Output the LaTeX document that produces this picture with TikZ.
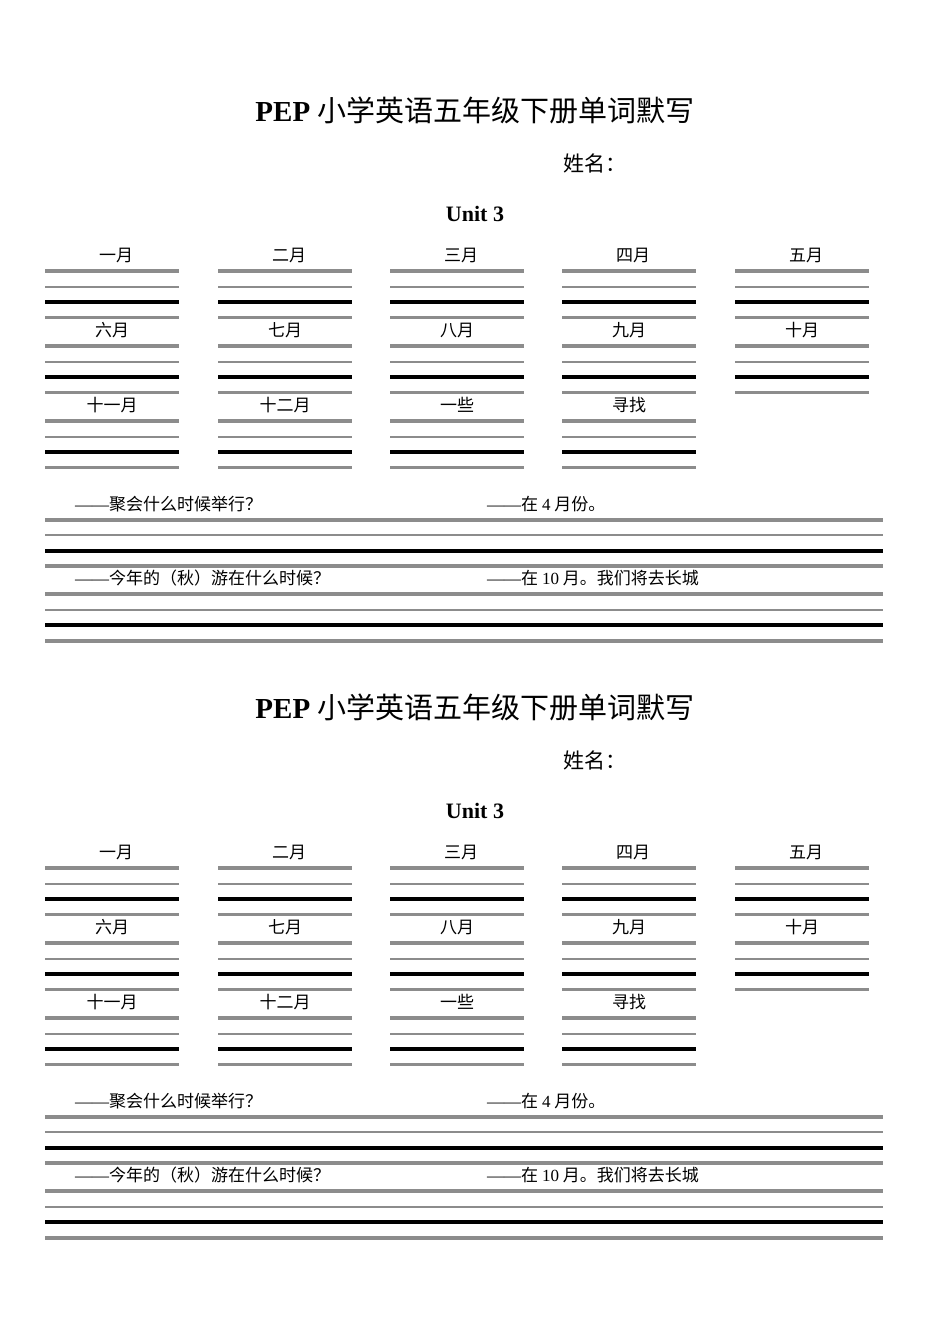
\documentclass[tikz,border=0pt]{standalone}
\usepackage{fontspec}
\setmainfont{Liberation Serif}
\newfontfamily\cjk{Noto Sans CJK SC}
\begin{document}
\begin{tikzpicture}[x=1pt,y=-1pt,
  gA/.style={draw=black!45,line width=3.2pt},
  gB/.style={draw=black!45,line width=2pt},
  bk/.style={draw=black,line width=3.2pt},
  lab/.style={font=\cjk\fontsize{17}{17}\selectfont,inner sep=0pt}]
\useasboundingbox (0,0) rectangle (950,1344);
\def\cellset#1#2#3{% x, y(top line)
  \draw[gA] (#1,#2) -- ++(134,0);
  \draw[gB] (#1,#2+15.5) -- ++(134,0);
  \draw[bk] (#1,#2+31) -- ++(134,0);
  \draw[gA] (#1,#2+46.5) -- ++(134,0);}
\foreach \o/\k in {0/a,597/b}{
  \node[font=\fontsize{29}{29}\selectfont,inner sep=0pt] (title\k) at (475,110+\o) {\textbf{PEP} \cjk 小学英语五年级下册单词默写};
  \node[font=\cjk\fontsize{21}{21}\selectfont,inner sep=0pt,anchor=west] (name\k) at (563,163+\o) {姓名：};
  \node[font=\bfseries\fontsize{22}{22}\selectfont,inner sep=0pt] (unit\k) at (475,214+\o) {Unit 3};
  \foreach \x/\t [count=\i] in {45/一月,218/二月,390/三月,562/四月,735/五月}{
    \node[lab] (r1\i\k) at (\x+71,255+\o) {\t};
    \cellset{\x}{271+\o}{}}
  \foreach \x/\t [count=\i] in {45/六月,218/七月,390/八月,562/九月,735/十月}{
    \node[lab] (r2\i\k) at (\x+67,330+\o) {\t};
    \cellset{\x}{346+\o}{}}
  \foreach \x/\t [count=\i] in {45/十一月,218/十二月,390/一些,562/寻找}{
    \node[lab] (r3\i\k) at (\x+67,405+\o) {\t};
    \cellset{\x}{421+\o}{}}
  \node[lab,anchor=west] (q1\k) at (75,504+\o) {{\rmfamily ——}聚会什么时候举行？};
  \node[lab,anchor=west] (a1\k) at (487,504+\o) {{\rmfamily ——}在 {\rmfamily 4} 月份。};
  \draw[gA] (45,520+\o) -- (883,520+\o);
  \draw[gB] (45,535+\o) -- (883,535+\o);
  \draw[bk] (45,551+\o) -- (883,551+\o);
  \draw[gA] (45,566+\o) -- (883,566+\o);
  \node[lab,anchor=west] (q2\k) at (75,578+\o) {{\rmfamily ——}今年的（秋）游在什么时候？};
  \node[lab,anchor=west] (a2\k) at (487,578+\o) {{\rmfamily ——}在 {\rmfamily 10} 月。我们将去长城};
  \draw[gA] (45,594+\o) -- (883,594+\o);
  \draw[gB] (45,610+\o) -- (883,610+\o);
  \draw[bk] (45,625+\o) -- (883,625+\o);
  \draw[gA] (45,641+\o) -- (883,641+\o);
}
\end{tikzpicture}
\end{document}
